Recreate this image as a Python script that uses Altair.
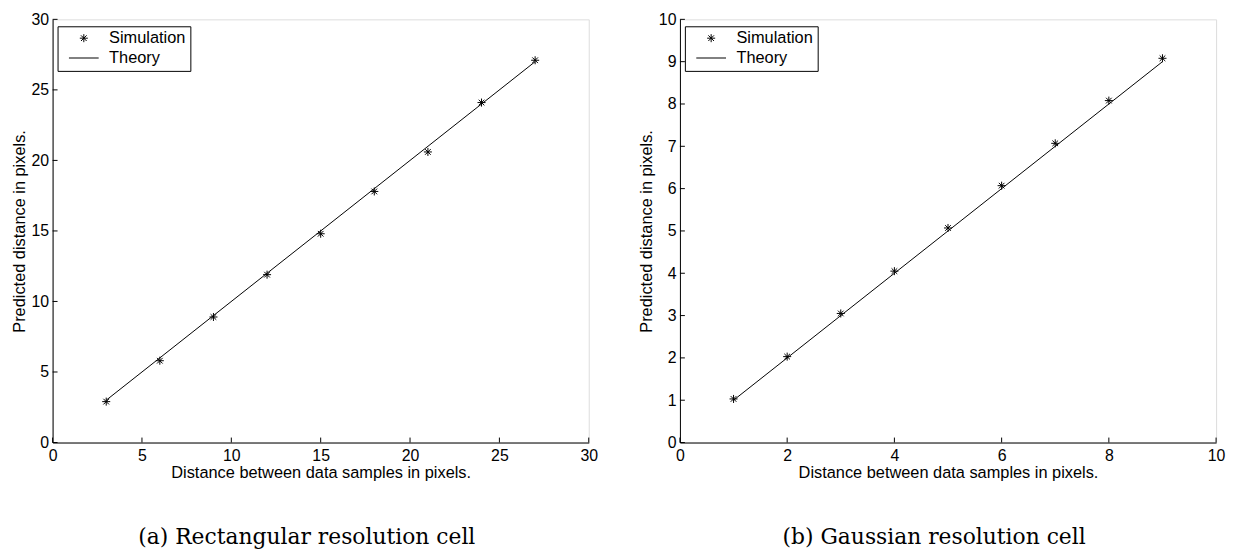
import altair as alt
import pandas as pd

# ---- data -------------------------------------------------------------
rect_x = [3, 6, 9, 12, 15, 18, 21, 24, 27]
rect_sim = [2.9, 5.8, 8.9, 11.9, 14.8, 17.8, 20.6, 24.1, 27.1]
rect_theory_x = [3, 27]
rect_theory_y = [3, 27]
rect_ticks = [0, 5, 10, 15, 20, 25, 30]

gauss_x = [1, 2, 3, 4, 5, 6, 7, 8, 9]
gauss_sim = [1.03, 2.03, 3.05, 4.05, 5.07, 6.07, 7.07, 8.08, 9.08]
gauss_theory_x = [1, 9]
gauss_theory_y = [1, 9]
gauss_xticks = [0, 2, 4, 6, 8, 10]
gauss_yticks = [0, 1, 2, 3, 4, 5, 6, 7, 8, 9, 10]

series_names = ["Simulation", "Theory"]
captions = ["(a) Rectangular resolution cell", "(b) Gaussian resolution cell"]
x_title = "Distance between data samples in pixels."
y_title = "Predicted distance in pixels."

# ---- style ------------------------------------------------------------
W, H = 541, 427
SANS = "Liberation Sans"
SERIF = "DejaVu Serif"
ASTERISK = ("M0,-0.27L0,0.27M-0.27,0L0.27,0"
            "M-0.19,-0.19L0.19,0.19M-0.19,0.19L0.19,-0.19")
LINE = "M-1,0L1,0"
TICK = 5


def panel(xs, sim, tx, ty, xticks, yticks, xmax, ymax, caption):
    pts = pd.DataFrame({"x": xs, "y": sim, "series": series_names[0]})
    th = pd.DataFrame({"x": tx, "y": ty, "series": series_names[1]})
    xt = pd.DataFrame({"t": xticks})
    yt = pd.DataFrame({"t": yticks})

    xscale = alt.Scale(domain=[0, xmax], nice=False, zero=True)
    yscale = alt.Scale(domain=[0, ymax], nice=False, zero=True)
    xaxis = alt.Axis(values=xticks, title=x_title, tickSize=0, labelPadding=5,
                     titlePadding=1, grid=False, domainColor="black",
                     labelFontSize=16, titleFontSize=16.5, labelFont=SANS,
                     titleFont=SANS, titleFontWeight="normal",
                     labelColor="black", titleColor="black", labelFlush=False)
    yaxis = alt.Axis(values=yticks, title=y_title, tickSize=0, labelPadding=4,
                     titlePadding=4, grid=False, domainColor="black",
                     labelFontSize=16, titleFontSize=16.5, labelFont=SANS,
                     titleFont=SANS, titleFontWeight="normal",
                     labelColor="black", titleColor="black", labelFlush=False)

    legend = alt.Legend(title=None, orient="none", legendX=5, legendY=7,
                        strokeColor="black", fillColor="white", padding=4,
                        symbolOffset=7, labelOffset=10, rowPadding=3,
                        clipHeight=16, symbolSize=900, symbolStrokeWidth=1,
                        symbolStrokeColor="black", symbolFillColor="transparent",
                        labelFont=SANS, labelFontSize=16.5, labelColor="black")

    points = alt.Chart(pts).mark_point(
        filled=False, color="black", size=900, strokeWidth=1, opacity=1
    ).encode(
        x=alt.X("x:Q", scale=xscale, axis=xaxis),
        y=alt.Y("y:Q", scale=yscale, axis=yaxis),
        shape=alt.Shape("series:N", scale=alt.Scale(domain=series_names,
                                                    range=[ASTERISK, LINE]),
                        legend=legend),
    )
    line = alt.Chart(th).mark_line(color="black", strokeWidth=1).encode(
        x=alt.X("x:Q", scale=xscale), y=alt.Y("y:Q", scale=yscale)
    )
    xticks_m = alt.Chart(xt).mark_rule(color="black", strokeWidth=1).encode(
        x=alt.X("t:Q", scale=xscale), y=alt.value(H), y2=alt.value(H - TICK)
    )
    yticks_m = alt.Chart(yt).mark_rule(color="black", strokeWidth=1).encode(
        y=alt.Y("t:Q", scale=yscale), x=alt.value(0), x2=alt.value(TICK)
    )
    return alt.layer(xticks_m, yticks_m, line, points).properties(
        width=W, height=H,
        title=alt.TitleParams(caption, orient="bottom", anchor="middle",
                              font=SERIF, fontSize=22, fontWeight="normal",
                              color="black", offset=47, dx=-14),
    )


left = panel(rect_x, rect_sim, rect_theory_x, rect_theory_y,
             rect_ticks, rect_ticks, 30, 30, captions[0])
right = panel(gauss_x, gauss_sim, gauss_theory_x, gauss_theory_y,
              gauss_xticks, gauss_yticks, 10, 10, captions[1])

chart = alt.hconcat(left, right, spacing=39).resolve_scale(
    shape="independent"
).resolve_legend(shape="independent").properties(
    padding={"left": 2, "top": 0, "right": 0, "bottom": 0}
).configure_view(stroke=None).configure(background="white")

chart.save("out.html", embed_options={"renderer": "svg", "actions": False})
